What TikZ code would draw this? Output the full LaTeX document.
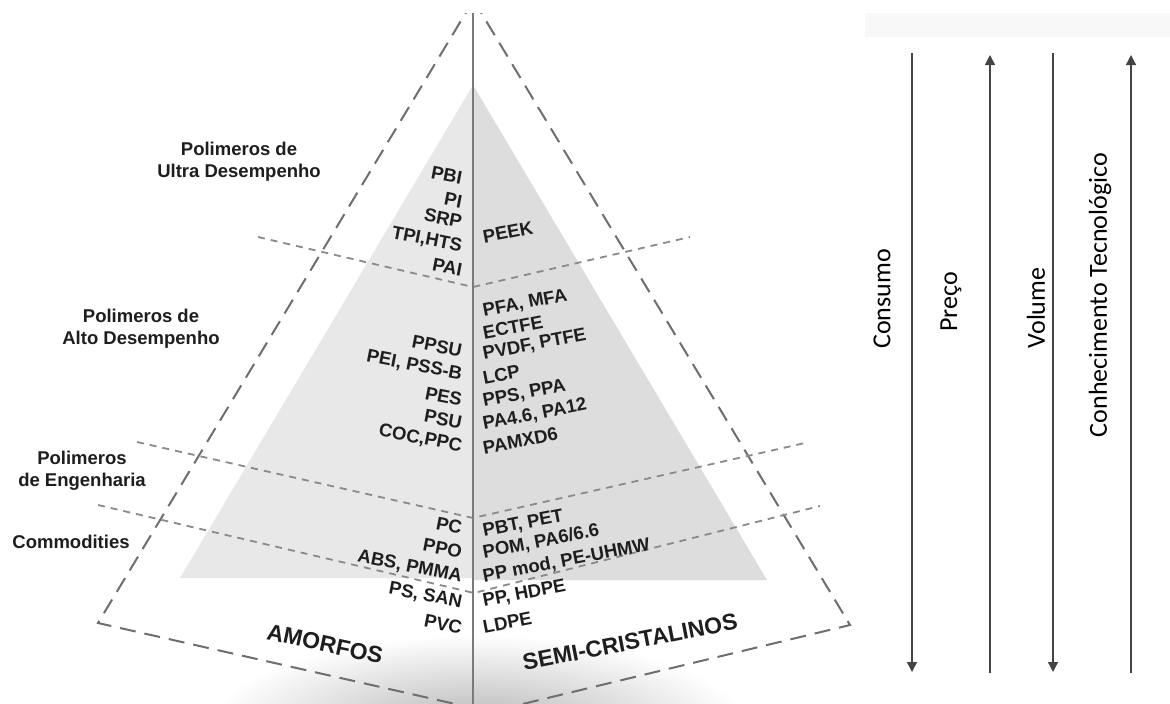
\documentclass[tikz,border=0pt]{standalone}
\usepackage{fontspec}
\setmainfont{Liberation Sans}
\newfontfamily\calfont{Carlito}
\usetikzlibrary{arrows.meta}
\definecolor{dashgrey}{HTML}{6E6E6E}
\definecolor{sepgrey}{HTML}{8A8A8A}
\definecolor{axisgrey}{HTML}{7A7A7A}
\definecolor{arrgrey}{HTML}{444444}
\definecolor{labcol}{HTML}{1E1E1E}
\definecolor{greyL}{HTML}{E8E8E8}
\definecolor{greyR}{HTML}{DDDDDD}
\definecolor{band}{HTML}{F8F8F8}
\begin{document}
\begin{tikzpicture}[x=1pt,y=-1pt,
  lab/.style={font=\fontsize{18.5}{22}\selectfont\bfseries, text=labcol, inner sep=0pt},
  lft/.style={lab, anchor=east, rotate=-11},
  rgt/.style={lab, anchor=west, rotate=11},
  cat/.style={lab, align=center},
  big/.style={font=\fontsize{23}{26}\selectfont\bfseries, text=labcol, inner sep=0pt},
  outer/.style={draw=dashgrey, line width=2pt, dash pattern=on 16pt off 9pt},
  sep/.style={draw=sepgrey, line width=1.8pt, dash pattern=on 7pt off 6pt},
  meas/.style={draw=arrgrey, line width=1.3pt},
  tip/.style={-{Triangle[width=10pt,length=10pt]}},
  mtext/.style={font=\calfont\fontsize{26}{30}\selectfont, text=black, rotate=90, inner sep=0pt}]
\useasboundingbox (0,0) rectangle (1170,704);
\fill[white] (0,0) rectangle (1170,704);
\fill[band] (865,13) rectangle (1170,37);

\begin{scope}
\clip (0,13) rectangle (1170,704);
% floor shadow
\shade[inner color=gray!60, outer color=white] (478,730) ellipse [x radius=270pt, y radius=95pt];
% inner grey pyramid
\fill[greyL] (473,85) -- (180,578) -- (473,578) -- cycle;
\fill[greyR] (473,85) -- (767,580) -- (473,580) -- cycle;
% outer dashed pyramid
\coordinate (apex) at (473.5,0);
\coordinate (cl) at (98,623);
\coordinate (cr) at (850,625);
\coordinate (bl) at (473,708);
\coordinate (br) at (473,716);
\draw[outer] (apex) -- (cl) -- (bl);
\draw[outer] (apex) -- (cr) -- (br);
% separators
\coordinate (s1a) at (258,237); \coordinate (s1b) at (473,287); \coordinate (s1c) at (690,237);
\coordinate (s2a) at (137,442); \coordinate (s2b) at (473,518); \coordinate (s2c) at (805,443);
\coordinate (s3a) at (98,505);  \coordinate (s3b) at (474,593); \coordinate (s3c) at (820,506);
\draw[sep] (s1a) -- (s1b) -- (s1c);
\draw[sep] (s2a) -- (s2b) -- (s2c);
\draw[sep] (s3a) -- (s3b) -- (s3c);
% central axis
\coordinate (axt) at (473,0);
\coordinate (axb) at (473,704);
\draw[draw=axisgrey, line width=2pt] (axt) -- (axb);
\end{scope}

% category labels
\node[cat] (ultra) at (239,162) {Polimeros de\\Ultra Desempenho};
\node[cat] (alto) at (141,329) {Polimeros de\\Alto Desempenho};
\node[cat] (eng) at (82,471) {Polimeros\\de Engenharia};
\node[cat] (comm) at (71,542) {Commodities};

% amorphous side
\node[lft] (pbi) at (462,178) {PBI};
\node[lft] (pi) at (462,202) {PI};
\node[lft] (srp) at (462,222) {SRP};
\node[lft] (tpi) at (462,247) {TPI,HTS};
\node[lft] (pai) at (462,270) {PAI};
\node[lft] (ppsu) at (462,351) {PPSU};
\node[lft] (pei) at (462,375) {PEI, PSS-B};
\node[lft] (pes) at (462,400) {PES};
\node[lft] (psu) at (462,423) {PSU};
\node[lft] (coc) at (462,447) {COC,PPC};
\node[lft] (pc) at (462,528) {PC};
\node[lft] (ppo) at (462,552) {PPO};
\node[lft] (abs) at (462,577) {ABS, PMMA};
\node[lft] (ps) at (462,603) {PS, SAN};
\node[lft] (pvc) at (462,628) {PVC};

% semi-crystalline side
\node[rgt] (peek) at (483,237) {PEEK};
\node[rgt] (pfa) at (483,312) {PFA, MFA};
\node[rgt] (ectfe) at (483,333) {ECTFE};
\node[rgt] (pvdf) at (483,355) {PVDF, PTFE};
\node[rgt] (lcp) at (483,378) {LCP};
\node[rgt] (pps) at (483,402) {PPS, PPA};
\node[rgt] (pa46) at (483,425) {PA4.6, PA12};
\node[rgt] (pamxd) at (483,448) {PAMXD6};
\node[rgt] (pbt) at (483,532) {PBT, PET};
\node[rgt] (pom) at (483,553) {POM, PA6/6.6};
\node[rgt] (ppmod) at (483,577) {PP mod, PE-UHMW};
\node[rgt] (pphdpe) at (483,602) {PP, HDPE};
\node[rgt] (ldpe) at (483,627) {LDPE};

\node[big, rotate=-12] (amorfos) at (325,644) {AMORFOS};
\node[big, rotate=11] (semi) at (630,642) {SEMI-CRISTALINOS};

% trend arrows
\coordinate (c1t) at (912,53);  \coordinate (c1b) at (912,672);
\coordinate (c2t) at (990,55);  \coordinate (c2b) at (990,673);
\coordinate (c3t) at (1053,53); \coordinate (c3b) at (1053,672);
\coordinate (c4t) at (1131,55); \coordinate (c4b) at (1131,673);
\draw[meas, tip] (c1t) -- (c1b);
\draw[meas, tip] (c2b) -- (c2t);
\draw[meas, tip] (c3t) -- (c3b);
\draw[meas, tip] (c4b) -- (c4t);
\node[mtext] (consumo) at (882,299) {Consumo};
\node[mtext] (preco) at (951,302) {Preço};
\node[mtext] (volume) at (1036,308) {Volume};
\node[mtext] (conhec) at (1100,295) {Conhecimento Tecnológico};
\end{tikzpicture}
\end{document}
